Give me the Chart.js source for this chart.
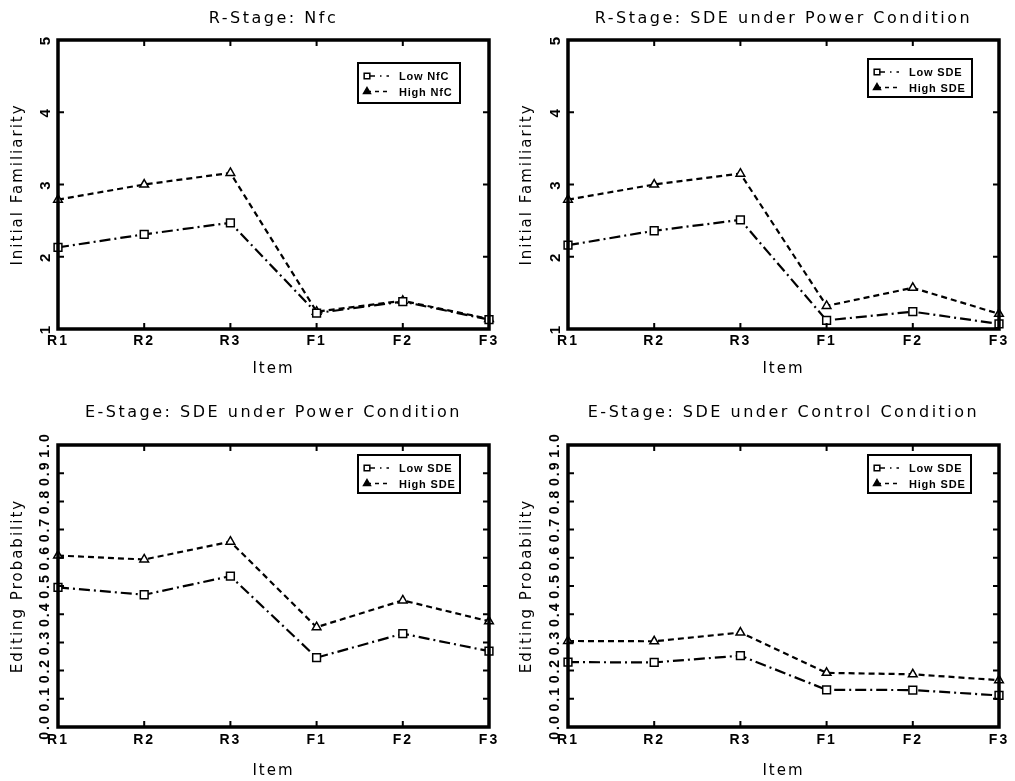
<!DOCTYPE html>
<html>
<head>
<meta charset="utf-8">
<script src="https://cdn.jsdelivr.net/npm/chart.js@4.4.0/dist/chart.umd.min.js"></script>
<style>
    body { margin: 0; background: #fff; width: 1015px; height: 781px; overflow: hidden; position: relative; }
    canvas { position: absolute; }
</style>
</head>
<body>
<canvas id="c1" width="507" height="390" style="left:0;top:0"></canvas>
<canvas id="c2" width="508" height="390" style="left:507px;top:0"></canvas>
<canvas id="c3" width="507" height="391" style="left:0;top:390px"></canvas>
<canvas id="c4" width="508" height="391" style="left:507px;top:390px"></canvas>
<script>
// 数据
const items = ['R1', 'R2', 'R3', 'F1', 'F2', 'F3'];
const famTicks = [1, 2, 3, 4, 5];
const probTicks = [0.0, 0.1, 0.2, 0.3, 0.4, 0.5, 0.6, 0.7, 0.8, 0.9, 1.0];

const nfcLow = [2.13, 2.31, 2.47, 1.22, 1.38, 1.13];
const nfcHigh = [2.79, 3.00, 3.16, 1.24, 1.39, 1.14];
const rPowerLow = [2.16, 2.36, 2.51, 1.12, 1.24, 1.07];
const rPowerHigh = [2.79, 3.00, 3.15, 1.32, 1.57, 1.21];
const ePowerLow = [0.495, 0.469, 0.535, 0.246, 0.331, 0.269];
const ePowerHigh = [0.608, 0.594, 0.657, 0.354, 0.449, 0.375];
const eControlLow = [0.230, 0.229, 0.253, 0.132, 0.131, 0.112];
const eControlHigh = [0.305, 0.304, 0.335, 0.192, 0.187, 0.166];

const lowDash = [11, 4, 2, 4];
const highDash = [6, 4];

Chart.defaults.font.family = 'DejaVu Sans';
Chart.defaults.color = '#000';

function marker(ctx, style, x, y, r) {
    ctx.beginPath();
    if (style === 'rect') {
        const s = r * Math.SQRT1_2;
        ctx.rect(x - s, y - s, s * 2, s * 2);
    } else {
        ctx.moveTo(x, y - r);
        ctx.lineTo(x + r * 0.866, y + r * 0.5);
        ctx.lineTo(x - r * 0.866, y + r * 0.5);
        ctx.closePath();
    }
    ctx.fill();
    ctx.stroke();
}

// 边框、内向刻度和图例
const framePlugin = {
    id: 'frame',
    beforeDraw(chart) {
        // 图表标题的字距
        chart.ctx.letterSpacing = '2.5px';
    },
    afterDatasetsDraw(chart, args, opts) {
        const { ctx, chartArea: a, scales: { x, y } } = chart;
        ctx.save();
        ctx.strokeStyle = '#000';
        ctx.lineWidth = 2;
        ctx.setLineDash([]);
        ctx.beginPath();
        x.ticks.forEach((t, i) => {
            const px = x.getPixelForTick(i);
            ctx.moveTo(px, a.bottom); ctx.lineTo(px, a.bottom - 6);
            ctx.moveTo(px, a.top); ctx.lineTo(px, a.top + 6);
        });
        y.ticks.forEach((t, i) => {
            const py = y.getPixelForTick(i);
            ctx.moveTo(a.left, py); ctx.lineTo(a.left + 6, py);
            ctx.moveTo(a.right, py); ctx.lineTo(a.right - 6, py);
        });
        ctx.stroke();
        ctx.lineWidth = 3.5;
        ctx.strokeRect(a.left, a.top, a.right - a.left, a.bottom - a.top);

        // 图例
        const bx = a.right - opts.right - opts.width;
        const by = a.top + opts.top;
        ctx.lineWidth = 2;
        ctx.strokeRect(bx, by, opts.width, opts.height);
        ctx.font = 'bold 11px "Liberation Sans"';
        ctx.letterSpacing = '0.8px';
        ctx.textBaseline = 'middle';
        chart.data.datasets.forEach((ds, i) => {
            const ry = by + 13 + i * 15.5;
            ctx.lineWidth = 1.5;
            ctx.setLineDash(i === 0 ? [8, 5, 1.5, 5] : [4, 4]);
            ctx.beginPath();
            ctx.moveTo(bx + 9, ry); ctx.lineTo(bx + 31, ry);
            ctx.stroke();
            ctx.setLineDash([]);
            ctx.fillStyle = i === 0 ? '#fff' : '#000';
            marker(ctx, ds.pointStyle, bx + 9, ry, 4);
            ctx.fillStyle = '#000';
            ctx.fillText(ds.label, bx + 41, ry + 1);
        });
        ctx.restore();
        // 坐标轴标题和刻度标签的字距（它们在数据之后绘制）
        ctx.letterSpacing = '2px';
    }
};

function series(label, data, dash, style) {
    return {
        label: label,
        data: data,
        borderColor: '#000',
        borderWidth: 2.2,
        borderDash: dash,
        pointStyle: style,
        pointRadius: style === 'rect' ? 5.5 : 5,
        pointBorderWidth: 1.5,
        pointBackgroundColor: '#fff',
        pointBorderColor: '#000',
        tension: 0,
        fill: false
    };
}

function makePanel(id, cfg) {
    const ctx = document.getElementById(id).getContext('2d');
    const tickVals = cfg.prob ? probTicks : famTicks;
    return new Chart(ctx, {
        type: 'line',
        data: {
            labels: items,
            datasets: [
                series(cfg.lowLabel, cfg.low, lowDash, 'rect'),
                series(cfg.highLabel, cfg.high, highDash, 'triangle')
            ]
        },
        options: {
            responsive: false,
            devicePixelRatio: 1,
            animation: false,
            events: [],
            layout: { padding: { left: 0, top: 0, right: cfg.padRight, bottom: 0 } },
            scales: {
                x: {
                    offset: false,
                    grid: { display: false, drawTicks: false, z: 1 },
                    border: { display: false },
                    ticks: {
                        z: 1,
                        padding: cfg.xTickPad,
                        maxRotation: 0,
                        autoSkip: false,
                        font: { family: 'Liberation Sans', size: 14, weight: 'bold' }
                    },
                    title: {
                        display: true,
                        text: 'Item',
                        font: { size: 15 },
                        padding: { top: 0, bottom: cfg.xTitlePad }
                    },
                    afterFit: s => { s.height = cfg.xHeight; }
                },
                y: {
                    min: cfg.prob ? 0 : 1,
                    max: cfg.prob ? 1 : 5,
                    grid: { display: false, drawTicks: false, z: 1 },
                    border: { display: false },
                    afterBuildTicks: s => { s.ticks = tickVals.map(v => ({ value: v })); },
                    ticks: {
                        z: 1,
                        autoSkip: false,
                        minRotation: 90,
                        maxRotation: 90,
                        crossAlign: 'center',
                        padding: cfg.prob ? 3 : 8,
                        callback: v => cfg.prob ? Number(v).toFixed(1) : String(v),
                        font: { family: 'Liberation Sans', size: cfg.prob ? 14 : 15, weight: 'bold' }
                    },
                    title: {
                        display: true,
                        text: cfg.prob ? 'Editing Probability' : 'Initial Familiarity',
                        font: { size: 15 },
                        padding: { top: cfg.yTitlePad, bottom: 0 }
                    },
                    afterFit: s => { s.width = cfg.yWidth; }
                }
            },
            plugins: {
                legend: { display: false },
                tooltip: { enabled: false },
                title: {
                    display: true,
                    fullSize: false,
                    text: cfg.title,
                    font: { size: 16, weight: 'normal' },
                    padding: cfg.titlePad
                },
                frame: cfg.legendBox
            }
        },
        plugins: [framePlugin]
    });
}

makePanel('c1', {
    title: 'R-Stage: Nfc', prob: false,
    low: nfcLow, high: nfcHigh, lowLabel: 'Low NfC', highLabel: 'High NfC',
    padRight: 18, yWidth: 58, xHeight: 61, xTickPad: 4, xTitlePad: 12, yTitlePad: 9,
    titlePad: { top: 9.5, bottom: 11.3 },
    legendBox: { right: 29, top: 23, width: 102, height: 40 }
});
makePanel('c2', {
    title: 'R-Stage: SDE under Power Condition', prob: false,
    low: rPowerLow, high: rPowerHigh, lowLabel: 'Low SDE', highLabel: 'High SDE',
    padRight: 16, yWidth: 61, xHeight: 61, xTickPad: 4, xTitlePad: 12, yTitlePad: 11,
    titlePad: { top: 9.5, bottom: 11.3 },
    legendBox: { right: 27, top: 19, width: 104, height: 38 }
});
makePanel('c3', {
    title: 'E-Stage: SDE under Power Condition', prob: true,
    low: ePowerLow, high: ePowerHigh, lowLabel: 'Low SDE', highLabel: 'High SDE',
    padRight: 18, yWidth: 58, xHeight: 54, xTickPad: 5, xTitlePad: 1, yTitlePad: 9,
    titlePad: { top: 13.5, bottom: 22.3 },
    legendBox: { right: 29, top: 10, width: 102, height: 38 }
});
makePanel('c4', {
    title: 'E-Stage: SDE under Control Condition', prob: true,
    low: eControlLow, high: eControlHigh, lowLabel: 'Low SDE', highLabel: 'High SDE',
    padRight: 16, yWidth: 61, xHeight: 54, xTickPad: 5, xTitlePad: 1, yTitlePad: 11,
    titlePad: { top: 13.5, bottom: 22.3 },
    legendBox: { right: 28, top: 10, width: 103, height: 38 }
});
</script>
</body>
</html>
